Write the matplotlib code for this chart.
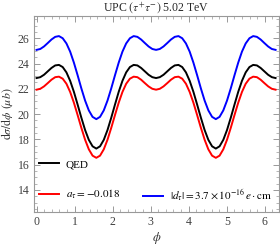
import numpy as np
import matplotlib
matplotlib.use("Agg")
import matplotlib.pyplot as plt
from matplotlib.lines import Line2D
from matplotlib.ticker import MultipleLocator

plt.rcParams['font.family'] = ['Liberation Serif', 'DejaVu Serif']
plt.rcParams['mathtext.fontset'] = 'stix'

# valores, phi de 0 a 2*pi en 64 pasos
phi = np.linspace(0, 2 * np.pi, 65)

qed = [22.85, 22.92, 23.11, 23.38, 23.65, 23.85, 23.89, 23.72, 23.30, 22.63,
       21.76, 20.75, 19.71, 18.74, 17.96, 17.45, 17.27, 17.45, 17.96, 18.74,
       19.71, 20.75, 21.76, 22.63, 23.30, 23.72, 23.89, 23.85, 23.65, 23.38,
       23.11, 22.92, 22.85, 22.92, 23.11, 23.38, 23.65, 23.85, 23.89, 23.72,
       23.30, 22.63, 21.76, 20.75, 19.71, 18.74, 17.96, 17.45, 17.27, 17.45,
       17.96, 18.74, 19.71, 20.75, 21.76, 22.63, 23.30, 23.72, 23.89, 23.85,
       23.65, 23.38, 23.11, 22.92, 22.85]

a_tau = [21.93, 22.00, 22.19, 22.45, 22.72, 22.92, 22.96, 22.80, 22.40, 21.75,
         20.90, 19.92, 18.91, 17.97, 17.21, 16.71, 16.54, 16.71, 17.21, 17.97,
         18.91, 19.92, 20.90, 21.75, 22.40, 22.80, 22.96, 22.92, 22.72, 22.45,
         22.19, 22.00, 21.93, 22.00, 22.19, 22.45, 22.72, 22.92, 22.96, 22.80,
         22.40, 21.75, 20.90, 19.92, 18.91, 17.97, 17.21, 16.71, 16.54, 16.71,
         17.21, 17.97, 18.91, 19.92, 20.90, 21.75, 22.40, 22.80, 22.96, 22.92,
         22.72, 22.45, 22.19, 22.00, 21.93]

d_tau = [25.08, 25.15, 25.35, 25.62, 25.90, 26.11, 26.17, 26.00, 25.59, 24.94,
         24.07, 23.07, 22.03, 21.07, 20.29, 19.78, 19.60, 19.78, 20.29, 21.07,
         22.03, 23.07, 24.07, 24.94, 25.59, 26.00, 26.17, 26.11, 25.90, 25.62,
         25.35, 25.15, 25.08, 25.15, 25.35, 25.62, 25.90, 26.11, 26.17, 26.00,
         25.59, 24.94, 24.07, 23.07, 22.03, 21.07, 20.29, 19.78, 19.60, 19.78,
         20.29, 21.07, 22.03, 23.07, 24.07, 24.94, 25.59, 26.00, 26.17, 26.11,
         25.90, 25.62, 25.35, 25.15, 25.08]

fig = plt.figure(figsize=(2.8, 2.48), dpi=100)
ax = fig.add_axes([0.121, 0.145, 0.875, 0.79])

l_qed, = ax.plot(phi, qed, color='black', lw=1.4, label='QED')
l_a, = ax.plot(phi, a_tau, color='red', lw=1.4, label=r'$a_\tau = -0.018$')
l_d, = ax.plot(phi, d_tau, color='blue', lw=1.4,
               label=r'$|d_\tau| = 3.7\times 10^{-16}\, e\cdot\mathrm{cm}$')

ax.set_xlim(-0.07, 6.37)
ax.set_ylim(12.25, 27.75)
ax.xaxis.set_major_locator(MultipleLocator(1))
ax.xaxis.set_minor_locator(MultipleLocator(0.2))
ax.yaxis.set_minor_locator(MultipleLocator(0.5))
ax.set_yticks([14, 16, 18, 20, 22, 24, 26])

for s in ax.spines.values():
    s.set_color('0.6')
    s.set_linewidth(0.8)
ax.tick_params(which='both', direction='in', top=True, right=True,
               color='0.6', labelsize=8.5, labelcolor='0.25', pad=3)
ax.tick_params(which='major', length=4, width=0.7)
ax.tick_params(which='minor', length=2, width=0.5)

ax.set_title(r'UPC $(\tau^{+}\tau^{-})$ 5.02 TeV', fontsize=8.5, color='0.15', pad=3)
ax.set_xlabel(r'$\phi$', fontsize=9, color='0.2', labelpad=1)
ax.set_ylabel(r'$\mathrm{d}\sigma/\mathrm{d}\phi\ (\mu b)$', fontsize=8.5,
              color='0.2', labelpad=2)

blank = Line2D([], [], alpha=0)
ax.legend([l_qed, l_a, blank, l_d], ['QED', l_a.get_label(), '', l_d.get_label()],
          ncol=2, loc='lower left', bbox_to_anchor=(-0.01, 0.0),
          frameon=False, fontsize=8, handlelength=1.8, handletextpad=0.6,
          labelspacing=1.7, columnspacing=2.1, borderaxespad=0.3)

fig.savefig('out.png', dpi=100)
